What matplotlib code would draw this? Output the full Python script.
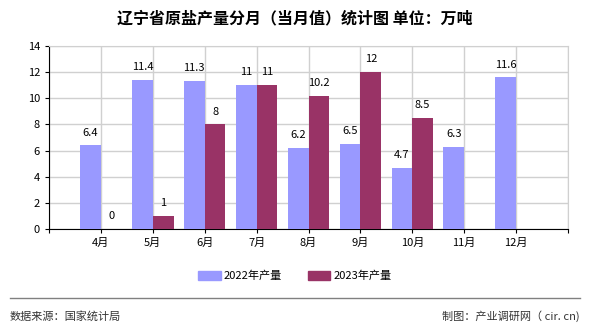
import matplotlib
matplotlib.use('Agg')

import matplotlib.pyplot as plt
import matplotlib.patches as mpatches
from matplotlib.lines import Line2D
import numpy as np

plt.rcParams['font.family'] = ['Noto Sans CJK SC', 'DejaVu Sans']

# ── Data ──────────────────────────────────────────────────────────────────────
months = ["4月", "5月", "6月", "7月", "8月", "9月", "10月", "11月", "12月"]
prod_2022 = [6.4, 11.4, 11.3, 11, 6.2, 6.5, 4.7, 6.3, 11.6]
prod_2023 = [0, 1, 8, 11, 10.2, 12, 8.5, None, None]

BLUE = "#9999ff"
RED = "#993366"

fig = plt.figure(figsize=(5.9, 3.3), dpi=100)
ax = fig.add_axes([49 / 590, 1 - 229 / 330, 519 / 590, 183 / 330])

x = np.arange(1, len(months) + 1)
w = 0.4

ax.bar(x - w / 2, prod_2022, width=w, color=BLUE, zorder=3)
vals23 = [v if v is not None else 0 for v in prod_2023]
mask = [v is not None for v in prod_2023]
ax.bar(x[mask] + w / 2, np.array(vals23)[mask], width=w, color=RED, zorder=3)

# value labels
for xi, v in zip(x, prod_2022):
    ax.text(xi - w / 2, v + 0.6, f"{v:g}", ha='center', va='bottom',
            fontsize=8, color='black', zorder=4)
for xi, v in zip(x, prod_2023):
    if v is None:
        continue
    ax.text(xi + w / 2, v + 0.6, f"{v:g}", ha='center', va='bottom',
            fontsize=8, color='black', zorder=4)

ax.set_xlim(0, len(months) + 1)
ax.set_ylim(0, 14)
ax.set_yticks(range(0, 15, 2))
ax.set_xticks(range(0, len(months) + 2))
ax.set_xticklabels([""] + months + [""], fontsize=8)
ax.tick_params(axis='y', labelsize=8, length=3)
ax.tick_params(axis='x', length=3)

ax.grid(True, color="#d0d0d0", linewidth=1, zorder=0)
for side in ['top', 'right']:
    ax.spines[side].set_color("#d0d0d0")
ax.spines['left'].set_color('black')
ax.spines['bottom'].set_color('black')

# title
fig.text(0.5, 1 - 18 / 330, "辽宁省原盐产量分月（当月值）统计图 单位：万吨",
         ha='center', va='center', fontsize=11.5, fontweight='bold')

# legend
handles = [mpatches.Patch(color=BLUE, label="2022年产量"),
           mpatches.Patch(color=RED, label="2023年产量")]
fig.legend(handles=handles, loc='center', bbox_to_anchor=(0.5, 1 - 276 / 330),
           ncol=2, frameon=False, fontsize=8, handlelength=2.0,
           handleheight=0.8, columnspacing=2.3, handletextpad=0.3)

# separator and footer
fig.add_artist(Line2D([10 / 590, 580 / 590], [1 - 298 / 330] * 2,
                      color='#808080', linewidth=1))
fig.text(10 / 590, 1 - 316 / 330, "数据来源：国家统计局", ha='left',
         va='center', fontsize=8, color='#333333')
fig.text(580 / 590, 1 - 316 / 330, "制图：产业调研网（ cir. cn)", ha='right',
         va='center', fontsize=8, color='#333333')

fig.savefig("out.png", dpi=100)
